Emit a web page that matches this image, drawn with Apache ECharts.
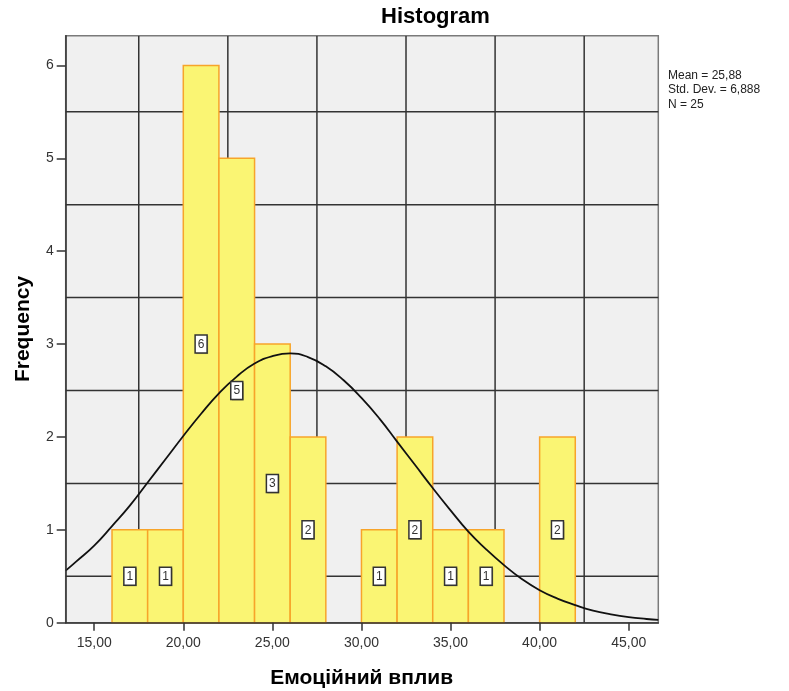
<!DOCTYPE html>
<html>
<head>
<meta charset="utf-8">
<script src="https://cdn.jsdelivr.net/npm/echarts@6/dist/echarts.min.js"></script>
<style>
  html, body { margin: 0; padding: 0; background: #ffffff; }
  #chart { width: 789px; height: 691px; }
</style>
</head>
<body>
<div id="chart"></div>
<script>
// Histogram bins (lower edge of each bin) and the frequency in each bin
const binStarts = [16, 18, 20, 22, 24, 26, 28, 30, 32, 34, 36, 38, 40];
const binWidth = 2;
const frequencies = [1, 1, 6, 5, 3, 2, 0, 1, 2, 1, 1, 0, 2];

// Axis ticks and the offset grid lines
const xTicks = [15, 20, 25, 30, 35, 40, 45];
const yTicks = [0, 1, 2, 3, 4, 5, 6];
const xGridLines = [17.5, 22.5, 27.5, 32.5, 37.5, 42.5];
const yGridLines = [0.5, 1.5, 2.5, 3.5, 4.5, 5.5];

// Fitted normal curve (frequency scale), from the left edge to the right edge of the plot
const curveX = [13.4, 14, 15, 16, 17, 18, 19, 20, 21, 22, 23, 24, 25, 26, 27, 28, 29, 30,
                31, 32, 33, 34, 35, 36, 37, 38, 39, 40, 41, 42, 43, 44, 45, 46, 46.66];
const curveY = [0.56, 0.66, 0.83, 1.04, 1.26, 1.51, 1.76, 2.01, 2.25, 2.47, 2.65, 2.79, 2.87, 2.90, 2.86, 2.76, 2.61, 2.42,
                2.20, 1.95, 1.70, 1.45, 1.21, 0.98, 0.79, 0.62, 0.47, 0.35, 0.26, 0.19, 0.13, 0.09, 0.06, 0.04, 0.03];

const statLines = ['Mean = 25,88', 'Std. Dev. = 6,888', 'N = 25'];
const titleText = 'Histogram';
const xName = 'Емоційний вплив';
const yName = 'Frequency';

const FONT = '"Liberation Sans", Arial, sans-serif';
const X_MIN = 13.4, X_MAX = 46.66, Y_MIN = 0, Y_MAX = 6.32;

const fmtComma = v => v.toFixed(2).replace('.', ',');

const barData = binStarts.map((s, i) => [s, frequencies[i]]);
const curveData = curveX.map((x, i) => [x, curveY[i]]);
// 0 = vertical line at an x value, 1 = horizontal line at a y value
const gridData = [
  ...xGridLines.map(v => [0, v]),
  ...yGridLines.map(v => [1, v])
];

const chart = echarts.init(document.getElementById('chart'), null, { renderer: 'canvas' });

chart.setOption({
  animation: false,
  backgroundColor: '#ffffff',
  grid: {
    left: 65.7, right: 130.7, top: 35.7, bottom: 68.3,
    show: true,
    backgroundColor: '#f0f0f0',
    borderColor: '#7a7a7a',
    borderWidth: 1.5
  },
  graphic: [
    {
      type: 'text', x: 435.5, y: 17, z: 10,
      style: { text: titleText, font: 'bold 22px ' + FONT, fill: '#000', textAlign: 'center', textVerticalAlign: 'middle' }
    },
    {
      type: 'text', x: 361.7, y: 678, z: 10,
      style: { text: xName, font: 'bold 21px ' + FONT, fill: '#000', textAlign: 'center', textVerticalAlign: 'middle' }
    },
    {
      type: 'text', x: 23, y: 329, rotation: Math.PI / 2, z: 10,
      style: { text: yName, font: 'bold 21px ' + FONT, fill: '#000', textAlign: 'center', textVerticalAlign: 'middle' }
    },
    {
      type: 'text', x: 668, y: 68, z: 10,
      style: { text: statLines.join('\n'), font: '12px ' + FONT, lineHeight: 14.5, fill: '#222', textAlign: 'left', textVerticalAlign: 'top' }
    }
  ],
  xAxis: {
    type: 'value', min: X_MIN, max: X_MAX, z: 10,
    axisLine: { show: true, onZero: false, lineStyle: { color: '#333', width: 1.5 } },
    axisTick: { show: true, length: 8, customValues: xTicks, lineStyle: { color: '#333', width: 1.5 } },
    axisLabel: {
      customValues: xTicks, margin: 13, color: '#333', fontSize: 14, fontFamily: FONT,
      formatter: v => fmtComma(v)
    },
    splitLine: { show: false }
  },
  yAxis: {
    type: 'value', min: Y_MIN, max: Y_MAX, z: 10,
    axisLine: { show: true, lineStyle: { color: '#333', width: 1.5 } },
    axisTick: { show: true, length: 9, customValues: yTicks, lineStyle: { color: '#333', width: 1.5 } },
    axisLabel: { customValues: yTicks, margin: 12, color: '#333', fontSize: 14, fontFamily: FONT },
    splitLine: { show: false }
  },
  series: [
    {
      // grid lines, sitting between the tick marks, behind the bars
      type: 'custom', z: 1, silent: true, clip: true,
      data: gridData,
      renderItem: (params, api) => {
        const dir = api.value(0), v = api.value(1);
        const a = dir === 0 ? api.coord([v, Y_MIN]) : api.coord([X_MIN, v]);
        const b = dir === 0 ? api.coord([v, Y_MAX]) : api.coord([X_MAX, v]);
        return {
          type: 'line',
          shape: { x1: a[0], y1: a[1], x2: b[0], y2: b[1] },
          style: { stroke: '#333', lineWidth: 1.5 }
        };
      }
    },
    {
      // histogram bars
      type: 'custom', z: 3, silent: true,
      data: barData,
      renderItem: (params, api) => {
        const x0 = api.value(0), count = api.value(1);
        if (!count) return null;
        const p0 = api.coord([x0, 0]);
        const p1 = api.coord([x0 + binWidth, count]);
        return {
          type: 'rect',
          shape: { x: p0[0], y: p1[1], width: p1[0] - p0[0], height: p0[1] - p1[1] },
          style: { fill: '#faf573', stroke: '#f7a42a', lineWidth: 1.5 }
        };
      }
    },
    {
      // normal curve
      type: 'line', z: 4, silent: true,
      data: curveData, smooth: true, showSymbol: false, clip: true,
      lineStyle: { color: '#111', width: 1.8 }
    },
    {
      // count labels at the middle of each bar
      type: 'custom', z: 6, silent: true,
      data: barData,
      renderItem: (params, api) => {
        const x0 = api.value(0), count = api.value(1);
        if (!count) return null;
        const p = api.coord([x0 + binWidth / 2, count / 2]);
        return {
          type: 'group',
          children: [
            {
              type: 'rect',
              shape: { x: p[0] - 5, y: p[1] - 8, width: 12, height: 18 },
              style: { fill: 'rgba(0,0,0,0.35)' }
            },
            {
              type: 'rect',
              shape: { x: p[0] - 6, y: p[1] - 9, width: 12, height: 18 },
              style: { fill: '#ffffff', stroke: '#333', lineWidth: 1.5 }
            },
            {
              type: 'text',
              x: p[0], y: p[1] + 0.5,
              style: {
                text: String(count), font: '12px ' + FONT, fill: '#333',
                textAlign: 'center', textVerticalAlign: 'middle'
              }
            }
          ]
        };
      }
    }
  ]
});
</script>
</body>
</html>
